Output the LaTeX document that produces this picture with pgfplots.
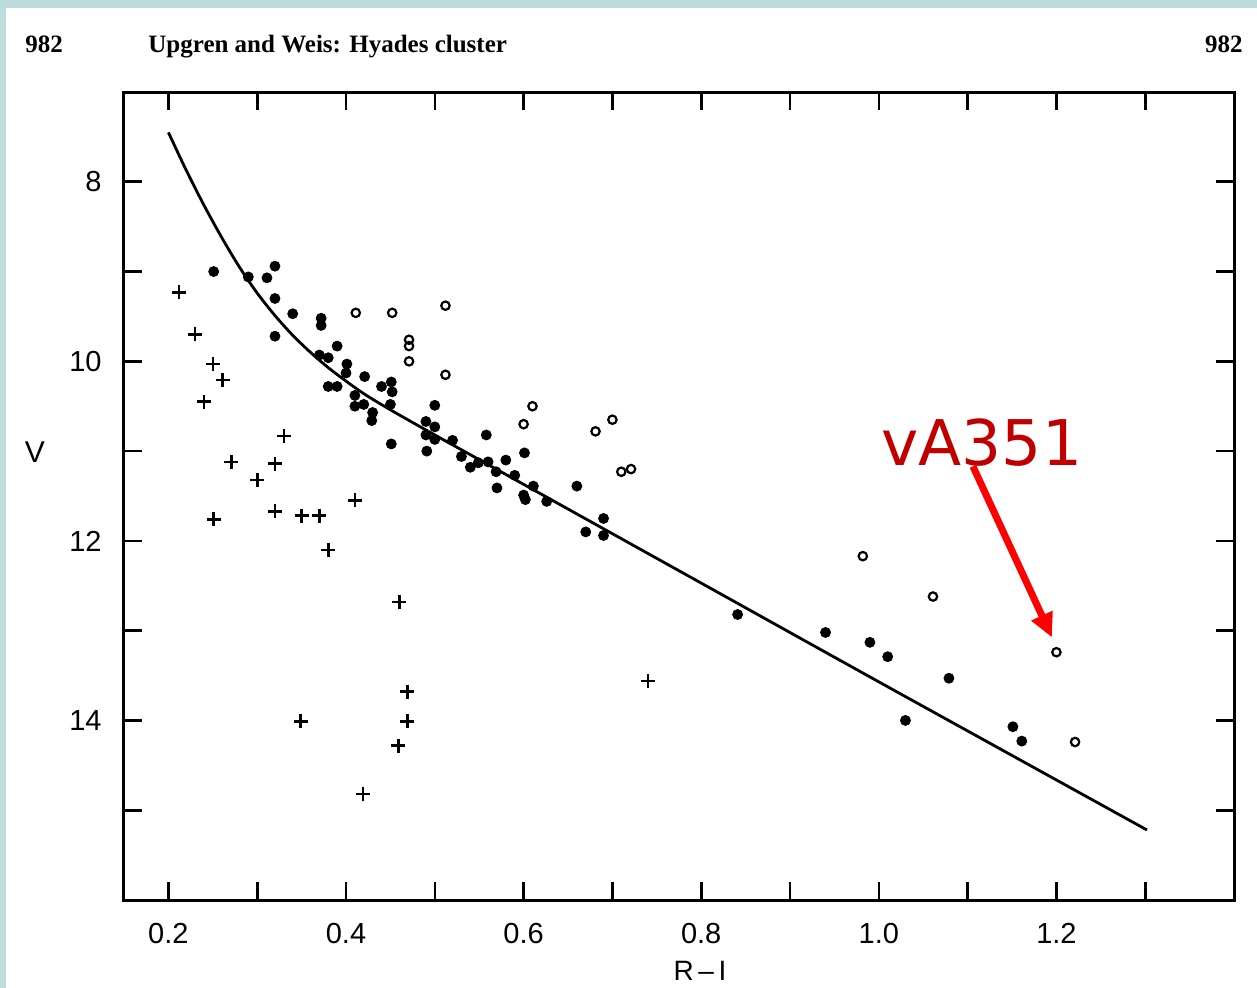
\documentclass[border=0pt]{standalone}
\usepackage{pgfplots}
\pgfplotsset{compat=1.18}
\usepackage{fontspec}
\usepackage{graphicx}
\usetikzlibrary{arrows.meta}
\setmainfont{Liberation Serif}
\newfontfamily\tickfont{Liberation Sans}
\newfontfamily\redfont{DejaVu Sans}
\definecolor{bgteal}{HTML}{BCDCDE}
\definecolor{annred}{HTML}{C00000}
\definecolor{arrred}{HTML}{FF0000}
\begin{document}
\begin{tikzpicture}
\useasboundingbox (-62pt,-44pt) rectangle (566.5pt,450pt);
\fill[bgteal] (-62pt,-44pt) rectangle (566.5pt,450pt);
\fill[white] (-59pt,-44pt) rectangle (566.5pt,446pt);
\begin{axis}[
  at={(0,0)}, anchor=south west, scale only axis,
  width=555pt, height=404pt,
  xmin=0.15, xmax=1.40, ymin=7, ymax=16, y dir=reverse,
  xtick={0.2,0.3,0.4,0.5,0.6,0.7,0.8,0.9,1.0,1.1,1.2,1.3},
  xticklabels={0.2,,0.4,,0.6,,0.8,,1.0,,1.2,},
  ytick={8,9,10,11,12,13,14,15},
  yticklabels={8,,10,,12,,14,},
  tick pos=both, tick align=inside,
  major tick length=9pt,
  axis line style={line width=1.5pt},
  every tick/.style={black, line width=1.3pt},
  xticklabel style={font=\tickfont\fontsize{14.5}{16}\selectfont, anchor=north, inner sep=0pt, yshift=-11.5pt},
  yticklabel style={font=\tickfont\fontsize{14.5}{16}\selectfont, anchor=east, inner sep=0pt, xshift=-11pt},
  clip=false,
]
\addplot[black, line width=1.4pt, smooth, tension=0.5] coordinates {
(0.200,7.45) (0.220,7.87) (0.240,8.26) (0.260,8.62) (0.280,8.95) (0.300,9.24)
(0.320,9.49) (0.340,9.71) (0.360,9.90) (0.380,10.07) (0.400,10.22) (0.420,10.36)
(0.450,10.54) (0.500,10.82) (0.550,11.095) (0.600,11.37) (0.800,12.47) (1.000,13.57)
(1.302,15.22)
};
\addplot[only marks, mark=*, mark size=2.5pt, black] coordinates {
(0.251,9.00) (0.290,9.06) (0.311,9.07) (0.320,8.94) (0.320,9.30) (0.340,9.47)
(0.372,9.52) (0.372,9.60) (0.320,9.72) (0.390,9.83) (0.370,9.93) (0.380,9.96)
(0.401,10.03) (0.400,10.13) (0.421,10.17) (0.380,10.28) (0.390,10.28) (0.440,10.28)
(0.451,10.23) (0.452,10.34) (0.410,10.38) (0.410,10.50) (0.420,10.48) (0.430,10.57)
(0.429,10.66) (0.450,10.48) (0.451,10.92) (0.500,10.49) (0.490,10.67) (0.500,10.73)
(0.490,10.82) (0.500,10.87) (0.491,11.00) (0.520,10.88) (0.530,11.06) (0.540,11.18)
(0.549,11.13) (0.558,10.82) (0.560,11.12) (0.569,11.23) (0.570,11.41) (0.580,11.10)
(0.590,11.27) (0.601,11.02) (0.600,11.49) (0.602,11.54) (0.611,11.39) (0.626,11.56)
(0.660,11.39) (0.690,11.75) (0.670,11.90) (0.690,11.94) (0.841,12.82) (0.940,13.02)
(0.990,13.13) (1.010,13.29) (1.079,13.53) (1.030,14.00) (1.151,14.07) (1.161,14.23)
};
\addplot[only marks, mark=o, mark size=2.1pt, black, mark options={line width=1.1pt}] coordinates {
(0.411,9.46) (0.452,9.46) (0.512,9.38) (0.471,9.76) (0.471,9.83) (0.471,10.00)
(0.512,10.15) (0.610,10.50) (0.600,10.70) (0.700,10.65) (0.681,10.78) (0.710,11.23)
(0.721,11.20) (0.982,12.17) (1.061,12.62) (1.200,13.24) (1.221,14.24)
};
\addplot[only marks, mark=+, mark size=3.5pt, black, mark options={line width=1.3pt}] coordinates {
(0.212,9.23) (0.230,9.70) (0.250,10.03) (0.261,10.21) (0.240,10.45) (0.330,10.83)
(0.271,11.12) (0.320,11.14) (0.300,11.32) (0.410,11.55) (0.251,11.76) (0.320,11.67)
(0.350,11.72) (0.370,11.72) (0.380,12.10) (0.460,12.68) (0.469,13.68) (0.349,14.01)
(0.469,14.01) (0.459,14.28) (0.419,14.82) (0.740,13.56)
};
\draw[arrred, line width=3.5pt, -{Triangle[length=12pt,width=11pt]}] (axis cs:1.106,11.17) -- (axis cs:1.195,13.075);
\node[annred, anchor=base, font=\redfont\fontsize{31.5}{34}\selectfont, inner sep=0pt] at (axis cs:1.116,11.16) {vA351};
\end{axis}
\node[anchor=base west, inner sep=0pt, font=\bfseries\fontsize{12.5}{14}\selectfont] at (-49.5pt,423.5pt) {982};
\node[anchor=base west, inner sep=0pt, font=\bfseries\fontsize{12.5}{14}\selectfont] at (12pt,423.5pt) {Upgren and Weis: Hyades cluster};
\node[anchor=base east, inner sep=0pt, font=\bfseries\fontsize{12.5}{14}\selectfont] at (559.5pt,423.5pt) {982};
\node[anchor=center, inner sep=0pt, font=\tickfont\fontsize{15}{17}\selectfont] at (-44.5pt,224pt) {V};
\node[anchor=base, inner sep=0pt, font=\tickfont\fontsize{14}{16}\selectfont] at (288pt,-40.5pt) {R\,–\,I};
\end{tikzpicture}
\end{document}
